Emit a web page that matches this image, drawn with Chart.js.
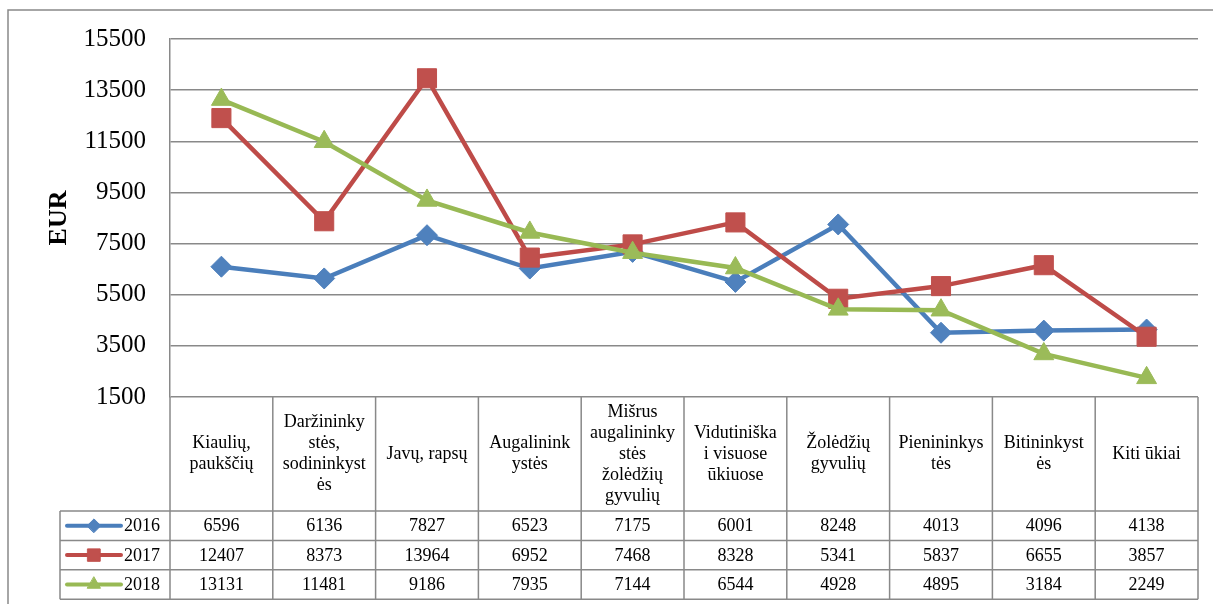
<!DOCTYPE html>
<html>
<head>
<meta charset="utf-8">
<script src="https://cdn.jsdelivr.net/npm/chart.js@4/dist/chart.umd.min.js"></script>
<style>
html,body{margin:0;padding:0;background:#fff;}
#wrap{width:1213px;height:604px;position:relative;}
</style>
</head>
<body>
<div id="wrap"><canvas id="c" width="1213" height="604"></canvas></div>
<script>
// ---- data ----
const categories = [
  ["Kiaulių,", "paukščių"],
  ["Daržininky", "stės,", "sodininkyst", "ės"],
  ["Javų, rapsų"],
  ["Augalinink", "ystės"],
  ["Mišrus", "augalininky", "stės", "žolėdžių", "gyvulių"],
  ["Vidutiniška", "i visuose", "ūkiuose"],
  ["Žolėdžių", "gyvulių"],
  ["Pienininkys", "tės"],
  ["Bitininkyst", "ės"],
  ["Kiti ūkiai"]
];
const seriesNames = ["2016", "2017", "2018"];
const values2016 = [6596, 6136, 7827, 6523, 7175, 6001, 8248, 4013, 4096, 4138];
const values2017 = [12407, 8373, 13964, 6952, 7468, 8328, 5341, 5837, 6655, 3857];
const values2018 = [13131, 11481, 9186, 7935, 7144, 6544, 4928, 4895, 3184, 2249];
const yTicks = [1500, 3500, 5500, 7500, 9500, 11500, 13500, 15500];
const yTitle = "EUR";

const GRID = '#898989';
const SERIF = "'Liberation Serif', 'Times New Roman', serif";

const tablePlugin = {
  id: 'dataTable',
  beforeDraw(chart) {
    const ctx = chart.ctx;
    ctx.save();
    ctx.fillStyle = '#fff';
    ctx.fillRect(0, 0, chart.width, chart.height);
    // outer chart border
    ctx.strokeStyle = GRID;
    ctx.lineWidth = 1.5;
    ctx.beginPath();
    ctx.moveTo(8, chart.height);
    ctx.lineTo(8, 10);
    ctx.lineTo(chart.width, 10);
    ctx.stroke();
    ctx.restore();
  },
  afterDraw(chart) {
    const ctx = chart.ctx;
    const area = chart.chartArea;
    const xs = chart.scales.x;
    const n = categories.length;
    const colW = area.width / n;
    const headTop = area.bottom;
    const headBottom = 511;
    const rowH = 29.4;
    const legendLeft = 60;
    const tableBottom = headBottom + rowH * seriesNames.length;
    ctx.save();
    ctx.strokeStyle = GRID;
    ctx.lineWidth = 1.5;
    // vertical lines
    ctx.beginPath();
    for (let i = 0; i <= n; i++) {
      const x = area.left + i * colW;
      ctx.moveTo(x, headTop);
      ctx.lineTo(x, tableBottom);
    }
    ctx.moveTo(legendLeft, headBottom);
    ctx.lineTo(legendLeft, tableBottom);
    // horizontal lines
    for (let r = 0; r <= seriesNames.length; r++) {
      const y = headBottom + r * rowH;
      ctx.moveTo(legendLeft, y);
      ctx.lineTo(area.right, y);
    }
    ctx.stroke();

    // header text
    ctx.fillStyle = '#000';
    ctx.font = "18px " + SERIF;
    ctx.textAlign = 'center';
    ctx.textBaseline = 'middle';
    const lh = 21;
    const headMid = (headTop + headBottom) / 2;
    categories.forEach((lines, i) => {
      const cx = xs.getPixelForValue(i);
      const start = headMid - (lines.length - 1) * lh / 2;
      lines.forEach((t, k) => ctx.fillText(t, cx, start + k * lh));
    });

    // data rows
    const allValues = [values2016, values2017, values2018];
    allValues.forEach((vals, r) => {
      const cy = headBottom + r * rowH + rowH / 2 + 1;
      vals.forEach((v, i) => {
        ctx.fillText(String(v), xs.getPixelForValue(i), cy);
      });
      // legend key
      const ds = chart.data.datasets[r];
      ctx.strokeStyle = ds.borderColor;
      ctx.lineWidth = 4;
      ctx.lineCap = 'round';
      ctx.beginPath();
      ctx.moveTo(67, cy - 1);
      ctx.lineTo(121, cy - 1);
      ctx.stroke();
      ctx.fillStyle = ds.pointBackgroundColor;
      ctx.strokeStyle = ds.pointBackgroundColor;
      ctx.lineWidth = 1;
      Chart.helpers.drawPoint(ctx, {pointStyle: ds.pointStyle, radius: ds.pointRadius * 0.65, rotation: 0, borderWidth: 1}, 94, cy - 1);
      ctx.fillStyle = '#000';
      ctx.textAlign = 'left';
      ctx.fillText(seriesNames[r], 124, cy);
      ctx.textAlign = 'center';
    });
    ctx.restore();
  }
};

const colors = [
  {line: '#4A7EBB', pt: '#4F81BD', style: 'rectRot', r: 10.5},
  {line: '#BE4B48', pt: '#C0504D', style: 'rect', r: 13.5},
  {line: '#98B954', pt: '#9BBB59', style: 'triangle', r: 11.5}
];
const seriesValues = [values2016, values2017, values2018];

new Chart(document.getElementById('c'), {
  type: 'line',
  data: {
    labels: categories.map(c => c.join(' ')),
    datasets: seriesNames.map((name, i) => ({
      label: name,
      data: seriesValues[i],
      borderColor: colors[i].line,
      backgroundColor: colors[i].pt,
      pointBackgroundColor: colors[i].pt,
      pointBorderColor: colors[i].pt,
      pointStyle: colors[i].style,
      pointRadius: colors[i].r,
      pointBorderWidth: 1,
      borderWidth: 4.5,
      tension: 0,
      order: 3 - i,
      clip: false
    }))
  },
  options: {
    responsive: false,
    animation: false,
    events: [],
    layout: {padding: {left: 0, top: 39, right: 15, bottom: 207}},
    plugins: {legend: {display: false}, tooltip: {enabled: false}},
    scales: {
      x: {type: 'category', offset: true, display: false},
      y: {
        min: yTicks[0],
        max: yTicks[yTicks.length - 1],
        afterBuildTicks: (s) => { s.ticks = yTicks.map(v => ({value: v})); },
        afterFit: (s) => { s.width = 170; },
        grid: {color: GRID, lineWidth: 1.5, drawTicks: false},
        border: {display: true, color: GRID, width: 1.5},
        ticks: {
          padding: 24,
          color: '#000',
          font: {family: SERIF, size: 25},
          callback: (v) => String(v)
        },
        title: {
          display: true,
          text: yTitle,
          color: '#000',
          font: {family: SERIF, size: 26, weight: 'bold'},
          padding: {top: 44, bottom: 0}
        }
      }
    }
  },
  plugins: [tablePlugin]
});
</script>
</body>
</html>
